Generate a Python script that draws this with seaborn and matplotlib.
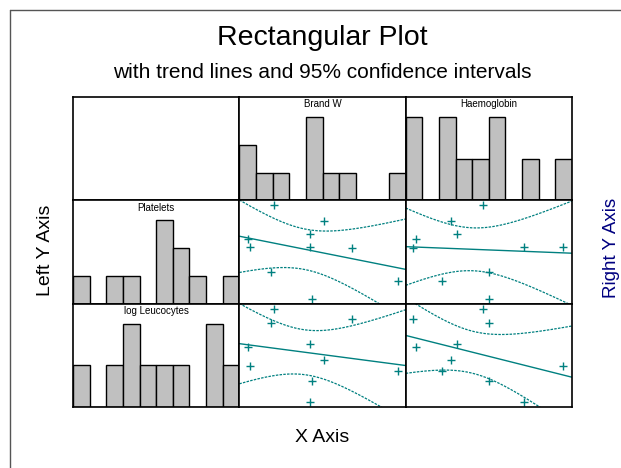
import matplotlib
matplotlib.use("Agg")
import matplotlib.pyplot as plt
from matplotlib.lines import Line2D
import seaborn as sns
import numpy as np

# values (axis range 0-10 for every variable)
brand_w = [0.54, 0.66, 1.92, 2.10, 4.25, 4.25, 4.37, 5.10, 6.77, 9.52]
haemoglobin = [0.60, 9.46, 5.03, 4.67, 3.11, 7.10, 5.03, 2.75, 0.42, 2.16]
platelets = [6.21, 5.53, 3.11, 9.51, 6.70, 5.53, 0.49, 7.96, 5.34, 2.23]
log_leucocytes = [5.77, 3.94, 8.10, 9.52, 6.10, 0.48, 2.50, 4.52, 8.56, 3.46]

col_vars = {"Brand W": brand_w, "Haemoglobin": haemoglobin}
row_vars = {"Platelets": platelets, "log Leucocytes": log_leucocytes}

teal = "#008080"
T_975_DF8 = 2.306


def ci_band(x, y, grid):
    x = np.asarray(x)
    y = np.asarray(y)
    n = len(x)
    b1, b0 = np.polyfit(x, y, 1)
    fit = b0 + b1 * grid
    s2 = np.sum((y - (b0 + b1 * x)) ** 2) / (n - 2)
    sxx = np.sum((x - x.mean()) ** 2)
    se = np.sqrt(s2 * (1 / n + (grid - x.mean()) ** 2 / sxx))
    return fit, fit - T_975_DF8 * se, fit + T_975_DF8 * se


def draw_hist(ax, values, label):
    sns.histplot(x=values, bins=np.linspace(0, 10, 11), ax=ax, color="#c0c0c0",
                 edgecolor="black", linewidth=1, alpha=1)
    counts, _ = np.histogram(values, bins=np.linspace(0, 10, 11))
    ax.set_ylim(0, counts.max() * 1.24)
    ax.text(0.5, 0.93, label, transform=ax.transAxes, ha="center", va="center",
            fontsize=7)


sns.set_style("white")
plt.rcParams["font.family"] = ["Liberation Sans", "DejaVu Sans"]
plt.rcParams["text.color"] = "black"

fig = plt.figure(figsize=(6.21, 4.68), dpi=100)
gs = fig.add_gridspec(3, 3, left=73 / 621, right=572 / 621, top=1 - 97 / 468,
                      bottom=1 - 407 / 468, wspace=0, hspace=0)
axes = [[fig.add_subplot(gs[r, c]) for c in range(3)] for r in range(3)]

# top row: histograms of the column variables
for c, (name, vals) in enumerate(col_vars.items(), start=1):
    draw_hist(axes[0][c], vals, name)

# left column: histograms of the row variables
for r, (name, vals) in enumerate(row_vars.items(), start=1):
    draw_hist(axes[r][0], vals, name)

grid = np.linspace(0, 10, 200)
for r, (rname, yv) in enumerate(row_vars.items(), start=1):
    for c, (cname, xv) in enumerate(col_vars.items(), start=1):
        ax = axes[r][c]
        ax.set_xlim(0, 10)
        sns.scatterplot(x=xv, y=yv, ax=ax, marker="+", color=teal, s=28, linewidth=1)
        fit, lo, hi = ci_band(xv, yv, grid)
        sns.lineplot(x=grid, y=fit, ax=ax, color=teal, linewidth=1)
        sns.lineplot(x=grid, y=lo, ax=ax, color=teal, linewidth=0.9, linestyle=(0, (2, 1)))
        sns.lineplot(x=grid, y=hi, ax=ax, color=teal, linewidth=0.9, linestyle=(0, (2, 1)))
        ax.set_ylim(0, 10)

for row in axes:
    for ax in row:
        ax.set_xlim(0, 10)
        ax.set_xticks([])
        ax.set_yticks([])
        ax.set_xlabel("")
        ax.set_ylabel("")
        for sp in ax.spines.values():
            sp.set_color("black")
            sp.set_linewidth(1.2)
            sp.set_visible(True)

fig.text(322 / 621, 1 - 38 / 468, "Rectangular Plot", ha="center", va="center", fontsize=20.5)
fig.text(322 / 621, 1 - 73 / 468, "with trend lines and 95% confidence intervals",
         ha="center", va="center", fontsize=15)
fig.text(322 / 621, 1 - 437 / 468, "X Axis", ha="center", va="center", fontsize=14)
fig.text(45 / 621, 1 - 250 / 468, "Left Y Axis", ha="center", va="center",
         rotation=90, fontsize=14)
fig.text(611 / 621, 1 - 248 / 468, "Right Y Axis", ha="center", va="center",
         rotation=90, fontsize=13.5, color="#000080")

# outer frame (top and left edges visible)
fig.add_artist(Line2D([10 / 621, 1], [1 - 10 / 468, 1 - 10 / 468], color="#555555", lw=1))
fig.add_artist(Line2D([10 / 621, 10 / 621], [1 - 10 / 468, 0], color="#555555", lw=1))

fig.savefig("out.png", dpi=100)
